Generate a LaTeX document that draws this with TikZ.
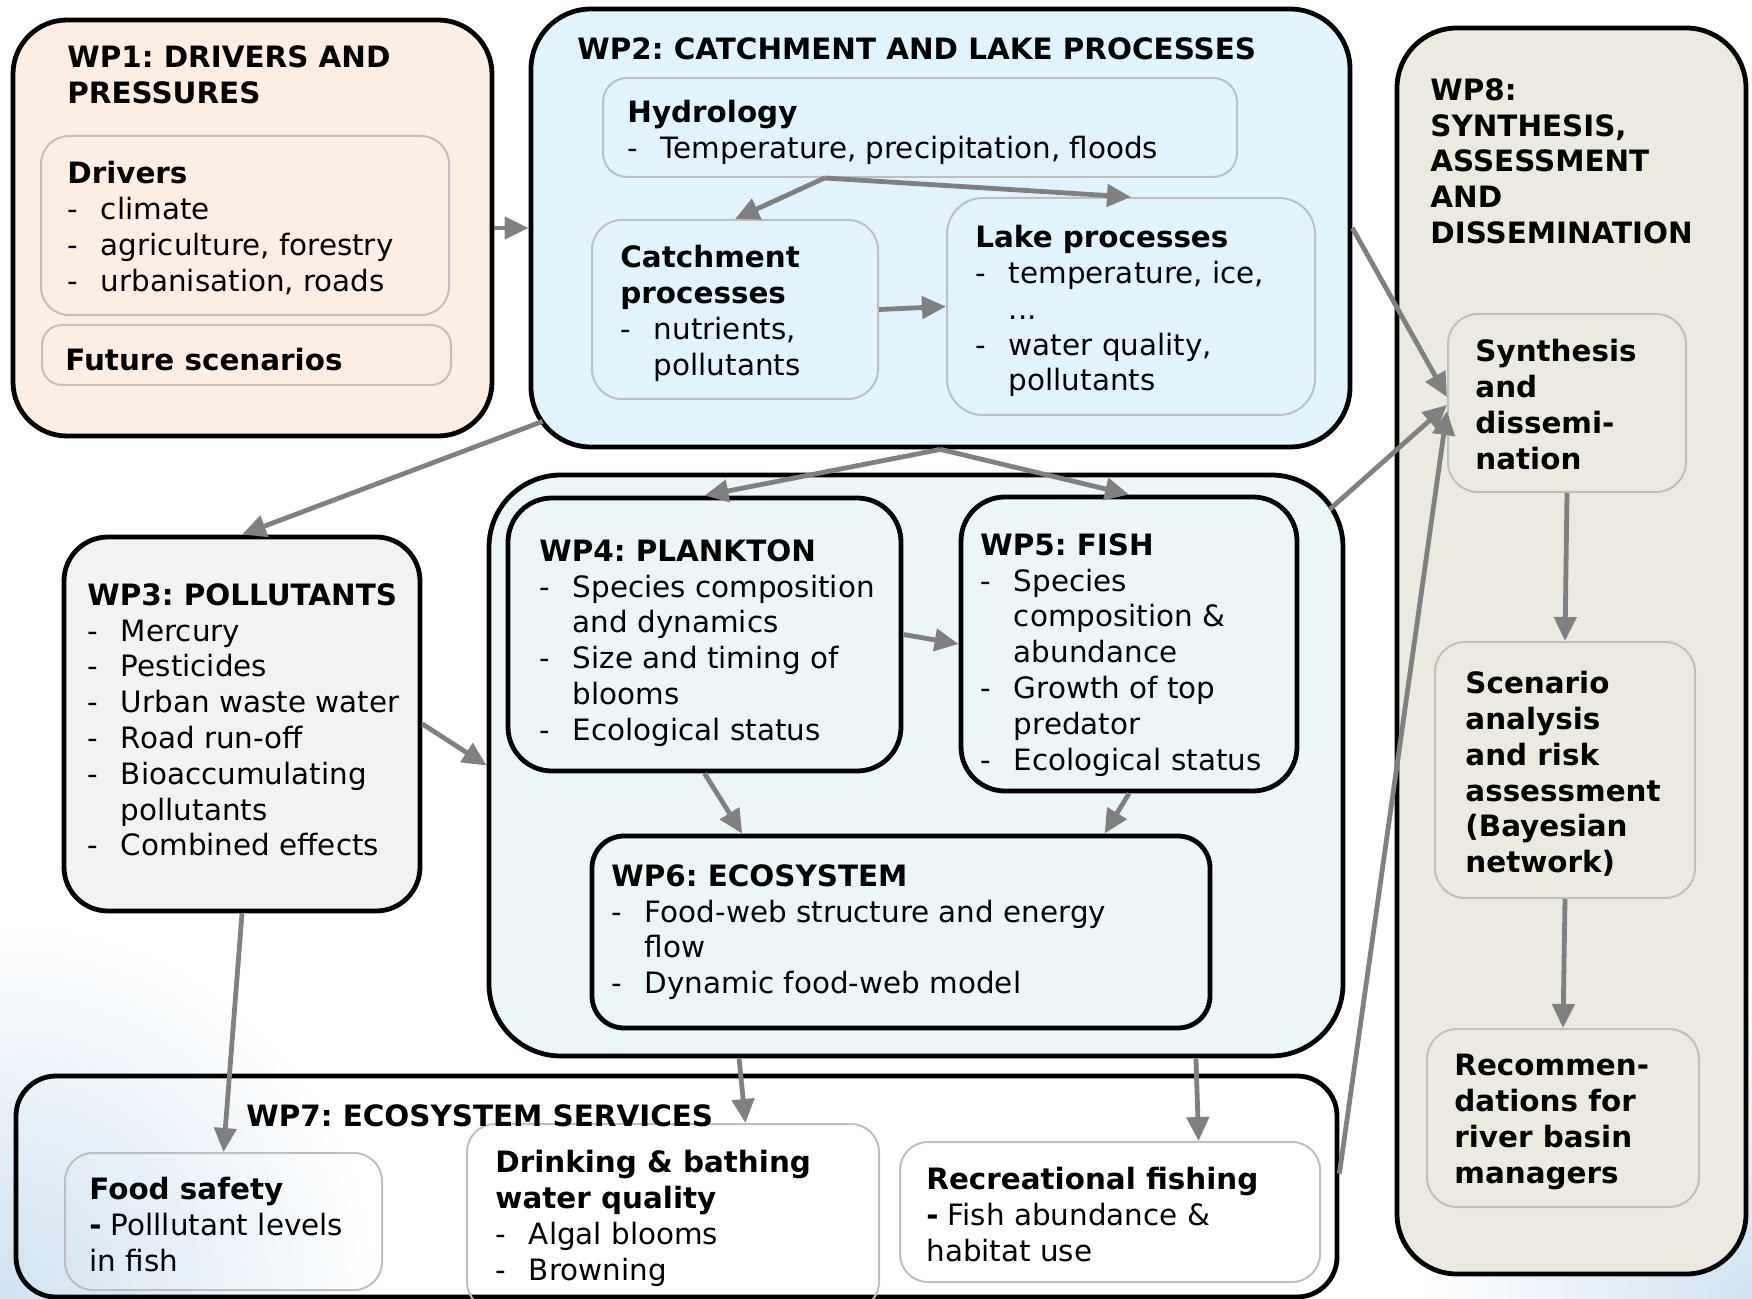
\documentclass[tikz,border=0pt]{standalone}
\usepackage{fontspec}
\setmainfont{DejaVu Sans}
\usetikzlibrary{calc, arrows.meta, fit}

\definecolor{peach}{HTML}{FDEEE3}
\definecolor{skyfill}{HTML}{E1F4FD}
\definecolor{greyfill}{HTML}{F2F2F2}
\definecolor{ecofill}{HTML}{ECF5F7}
\definecolor{sandfill}{HTML}{ECEAE0}
\definecolor{framegrey}{HTML}{BFBFBF}
\definecolor{linkgrey}{HTML}{808080}
\definecolor{wash}{HTML}{CFE2F1}

\newcommand{\itm}[1]{\makebox[1.14em][l]{-}#1}
\newcommand{\cnt}[1]{\hspace*{1.14em}#1}

\tikzset{
    wpbox/.style={draw=black, line width=2.4pt, inner sep=0pt, rounded corners=#1},
    wpbox/.default=24pt,
    subbox/.style={draw=framegrey, line width=1pt, inner sep=0pt, rounded corners=#1},
    subbox/.default=14pt,
    txt/.style={anchor=north west, inner sep=0pt, align=left, yshift=-1.5pt,
        font=\fontsize{14.7}{17.9}\selectfont, execute at begin node=\frenchspacing\strut},
    link/.style={draw=linkgrey, line width=2.4pt, -{Triangle[length=12pt,width=11pt]}}
}

\begin{document}
\begin{tikzpicture}[x=0.5pt, y=-0.5pt]
    \useasboundingbox (0,0) rectangle (1752,1299);
    % background wash
    \shade[inner color=wash, outer color=white] (0,1299) circle (380);
    \shade[inner color=wash, outer color=white] (1752,1299) circle (330);

    % outer work packages
    \node[wpbox=27pt, fill=peach, fit={(13,20) (492,436)}] (wp1) {};
    \node[wpbox=30pt, fill=skyfill, fit={(531,9) (1350,447)}] (wp2) {};
    \node[wpbox=30pt, fill=sandfill, fit={(1397,28) (1746,1274)}] (wp8) {};
    \node[wpbox=22pt, fill=greyfill, fit={(64,537) (420,911)}] (wp3) {};
    \node[wpbox=36pt, fill=ecofill, fit={(489,475) (1343,1056)}] (eco) {};
    \node[wpbox=22pt, fit={(508,498) (901,771)}] (wp4) {};
    \node[wpbox=22pt, fit={(961,497) (1297,791)}] (wp5) {};
    \node[wpbox=16pt, fit={(592,836) (1210,1028)}] (wp6) {};
    \node[wpbox=20pt, fit={(16,1076) (1337,1297)}] (wp7) {};

    % inner boxes
    \node[subbox, fit={(41,136) (449,315)}] (drv) {};
    \node[subbox=10pt, fit={(42,325) (451,385)}] (fut) {};
    \node[subbox=12pt, fit={(603,78) (1237,177)}] (hyd) {};
    \node[subbox=15pt, fit={(592,220) (878,399)}] (catch) {};
    \node[subbox=18pt, fit={(947,198) (1315,415)}] (lake) {};
    \node[subbox=15pt, fit={(1448,314) (1686,492)}] (synth) {};
    \node[subbox=15pt, fit={(1435,642) (1695,898)}] (scen) {};
    \node[subbox=15pt, fit={(1427,1029) (1699,1207)}] (reco) {};
    \node[subbox, fit={(65,1153) (382,1290)}] (food) {};
    \node[subbox, fit={(467,1124) (879,1310)}] (drink) {};
    \node[subbox, fit={(900,1142) (1320,1282)}] (recf) {};

    % texts
    \node[txt] (wp1t) at (67,42) {\textbf{WP1: DRIVERS AND}\\\textbf{PRESSURES}};
    \node[txt] (drvt) at (67,158) {\textbf{Drivers}\\\itm{climate}\\\itm{agriculture, forestry}\\\itm{urbanisation, roads}};
    \node[txt] (futt) at (65,342) {\textbf{Future scenarios}};
    \node[txt] (wp2t) at (577,31) {\textbf{WP2: CATCHMENT AND LAKE PROCESSES}};
    \node[txt] (hydt) at (627,97) {\textbf{Hydrology}\\\itm{Temperature, precipitation, floods}};
    \node[txt] (catt) at (620,242) {\textbf{Catchment}\\\textbf{processes}\\\itm{nutrients,}\\\cnt{pollutants}};
    \node[txt] (lakt) at (975,222) {\textbf{Lake processes}\\\itm{temperature, ice,}\\\cnt{...}\\\itm{water quality,}\\\cnt{pollutants}};
    \node[txt] (wp8t) at (1430,75) {\textbf{WP8:}\\\textbf{SYNTHESIS,}\\\textbf{ASSESSMENT}\\\textbf{AND}\\\textbf{DISSEMINATION}};
    \node[txt] (synt) at (1475,336) {\textbf{Synthesis}\\\textbf{and}\\\textbf{dissemi-}\\\textbf{nation}};
    \node[txt] (scet) at (1465,668) {\textbf{Scenario}\\\textbf{analysis}\\\textbf{and risk}\\\textbf{assessment}\\\textbf{(Bayesian}\\\textbf{network)}};
    \node[txt] (rect) at (1454,1051) {\textbf{Recommen-}\\\textbf{dations for}\\\textbf{river basin}\\\textbf{managers}};
    \node[txt] (wp3t) at (87,580) {\textbf{WP3: POLLUTANTS}\\\itm{Mercury}\\\itm{Pesticides}\\\itm{Urban waste water}\\\itm{Road run-off}\\\itm{Bioaccumulating}\\\cnt{pollutants}\\\itm{Combined effects}};
    \node[txt] (wp4t) at (539,536) {\textbf{WP4: PLANKTON}\\\itm{Species composition}\\\cnt{and dynamics}\\\itm{Size and timing of}\\\cnt{blooms}\\\itm{Ecological status}};
    \node[txt] (wp5t) at (980,530) {\textbf{WP5: FISH}\\\itm{Species}\\\cnt{composition \&}\\\cnt{abundance}\\\itm{Growth of top}\\\cnt{predator}\\\itm{Ecological status}};
    \node[txt] (wp6t) at (611,861) {\textbf{WP6: ECOSYSTEM}\\\itm{Food-web structure and energy}\\\cnt{flow}\\\itm{Dynamic food-web model}};
    \node[txt] (wp7t) at (246,1098) {\textbf{WP7: ECOSYSTEM SERVICES}};
    \node[txt] (foot) at (89,1174) {\textbf{Food safety}\\\textbf{-} Polllutant levels\\in fish};
    \node[txt] (drit) at (495,1147) {\textbf{Drinking \& bathing}\\\textbf{water quality}\\\itm{Algal blooms}\\\itm{Browning}};
    \node[txt] (recft) at (926,1164) {\textbf{Recreational fishing}\\\textbf{-} Fish abundance \&\\habitat use};

    % connectors
    \coordinate (hydfoot) at ($(hyd.south west)!0.35!(hyd.south east)$);
    \draw[link] (wp1.east) -- (wp1.east -| wp2.west);
    \draw[link] (hydfoot) -- (catch.north);
    \draw[link] (hydfoot) -- (lake.north);
    \draw[link] (catch.east) -- (lake.west);
    \draw[link] ($(wp2.south west)+(14,-28)$) -- (wp3.north);
    \draw[link] (wp3.east) -- (eco.west);
    \draw[link] (wp2.south) -- (wp4.north);
    \draw[link] (wp2.south) -- (wp5.north);
    \draw[link] (wp4.east) -- (wp5.west);
    \draw[link] (wp4.south) -- ($(wp6.north west)!0.245!(wp6.north east)$);
    \draw[link] (wp5.south) -- ($(wp6.north west)!0.827!(wp6.north east)$);
    \draw[link] (wp3.south) -- (food.north);
    \draw[link] ($(eco.south west)!0.294!(eco.south east)$) -- ($(drink.north west)!0.675!(drink.north east)$);
    \draw[link] ($(eco.south west)!0.826!(eco.south east)$) -- ($(recf.north west)!0.71!(recf.north east)$);
    \draw[link] (wp2.east) -- ($(synth.west)+(0,-6)$);
    \draw[link] ($(eco.north east)+(-16,37)$) -- ($(synth.west)+(0,2)$);
    \draw[link] ($(wp7.east)+(0,-13)$) -- ($(synth.west)+(0,8)$);
    \draw[link] (synth.south) -- (scen.north);
    \draw[link] (scen.south) -- (reco.north);
\end{tikzpicture}
\end{document}
